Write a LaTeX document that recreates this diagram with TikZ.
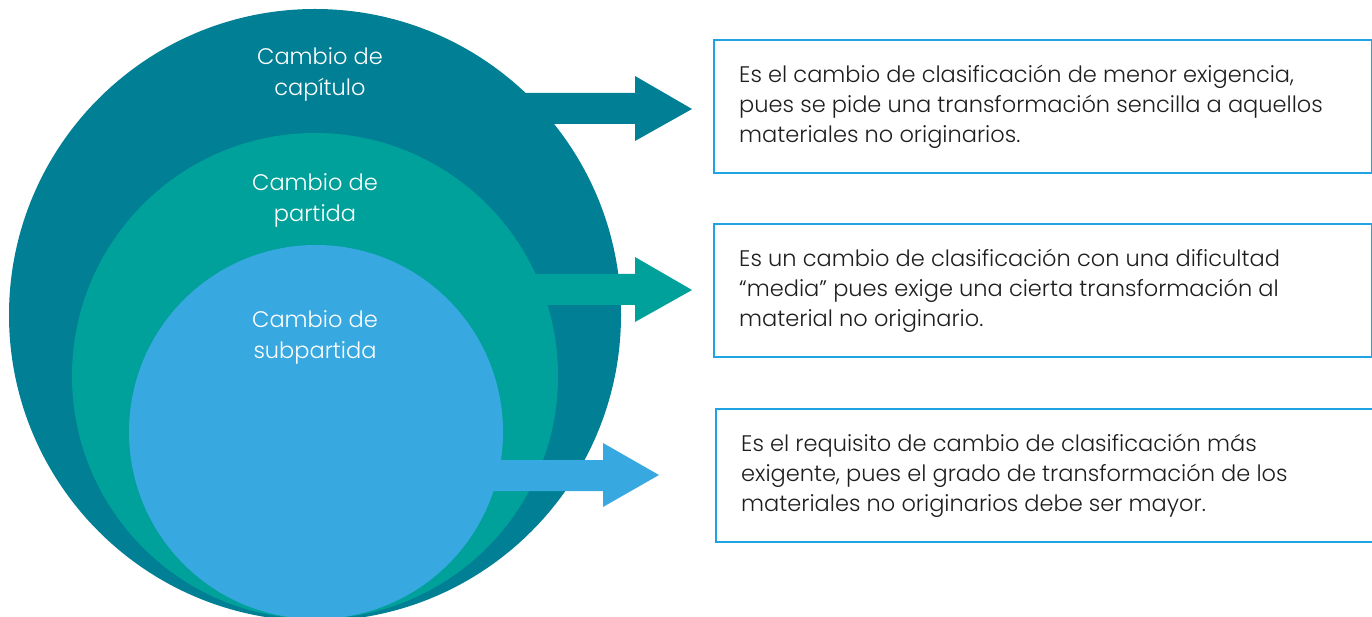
\documentclass[tikz,border=0pt]{standalone}
\usepackage{fontspec}
\setmainfont{Poppins Light}
\begin{document}
\begin{tikzpicture}[x=1pt,y=-1pt,
  outerc/.style={fill=cOuter},
  midc/.style={fill=cMid},
  innc/.style={fill=cInn},
  lbl/.style={text=white,align=center,font=\fontsize{22.5}{31}\selectfont,inner sep=0pt},
  infobox/.style={draw=cBox,line width=2pt,minimum width=658pt,minimum height=133pt,anchor=north west,inner sep=0pt},
  infotxt/.style={text=cText,align=left,anchor=west,font=\fontsize{22.5}{30}\selectfont,inner sep=0pt}]
\definecolor{cOuter}{RGB}{0,127,149}
\definecolor{cMid}{RGB}{0,161,154}
\definecolor{cInn}{RGB}{56,168,224}
\definecolor{cBox}{RGB}{30,164,226}
\definecolor{cText}{RGB}{30,30,30}
\useasboundingbox (0,0) rectangle (1372,617);
\clip (0,0) rectangle (1372,617);
% outer circle and arrow
\fill[outerc] (315,315) circle (306);
\fill[outerc] (500,93) -- (635,93) -- (635,76) -- (692,109) -- (635,141) -- (635,124) -- (500,124) -- cycle;
% middle circle and arrow
\fill[midc] (315,376) circle (243);
\fill[midc] (500,274) -- (635,274) -- (635,257) -- (692,290) -- (635,322) -- (635,305) -- (500,305) -- cycle;
% inner circle and arrow
\fill[innc] (316,432) circle (187);
\fill[innc] (450,460) -- (603,460) -- (603,443) -- (659,475) -- (603,507) -- (603,491) -- (450,491) -- cycle;
% labels
\node[lbl] (l1) at (320,74) {Cambio de\\capítulo};
\node[lbl] (l2) at (315,200) {Cambio de\\partida};
\node[lbl] (l3) at (315,337) {Cambio de\\subpartida};
% boxes
\node[infobox] (b1) at (713,39) {};
\node[infobox] (b2) at (713,223) {};
\node[infobox] (b3) at (715,408) {};
\node[infotxt] (t1) at ([xshift=26pt]b1.west) {Es el cambio de clasificación de menor exigencia,\\pues se pide una transformación sencilla a aquellos\\materiales no originarios.};
\node[infotxt] (t2) at ([xshift=26pt]b2.west) {Es un cambio de clasificación con una dificultad\\“media” pues exige una cierta transformación al\\material no originario.};
\node[infotxt] (t3) at ([xshift=26pt]b3.west) {Es el requisito de cambio de clasificación más\\exigente, pues el grado de transformación de los\\materiales no originarios debe ser mayor.};
\end{tikzpicture}
\end{document}
